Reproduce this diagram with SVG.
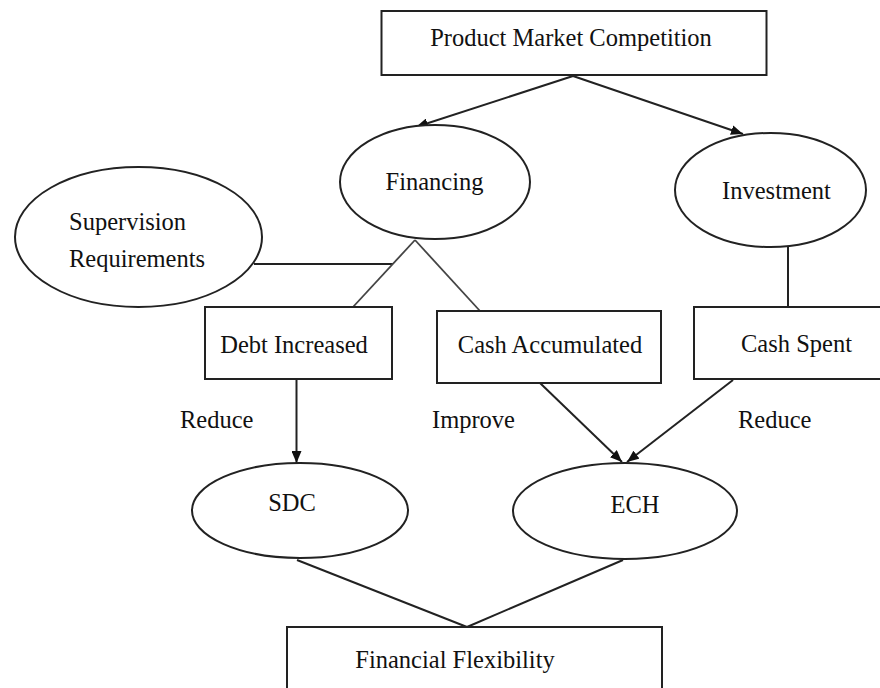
<svg xmlns="http://www.w3.org/2000/svg" width="880" height="688" viewBox="0 0 880 688">
<style>
.n{fill:#fff;stroke:#222;stroke-width:2}
.t{font-family:"Liberation Serif","Times New Roman",serif;font-size:24.5px;fill:#111}
.c{text-anchor:middle}
.e{fill:none;stroke:#222;stroke-width:2}
.g{fill:none;stroke:#444;stroke-width:1.8}
</style>
<defs>
<marker id="ah" viewBox="0 0 12 10" refX="12" refY="5" markerWidth="12" markerHeight="10" markerUnits="userSpaceOnUse" orient="auto">
<path d="M0,0 L12,5 L0,10 Z" fill="#111"/>
</marker>
</defs>
<rect width="880" height="688" fill="#fff"/>
<g id="connectors">
<line class="e" x1="573" y1="76" x2="416" y2="127" marker-end="url(#ah)"/>
<line class="e" x1="573" y1="76" x2="743" y2="134" marker-end="url(#ah)"/>
<line class="e" x1="254" y1="264" x2="393" y2="264"/>
<line class="g" x1="415" y1="240" x2="353" y2="307"/>
<line class="g" x1="415" y1="240" x2="480" y2="311"/>
<line class="e" x1="788" y1="247" x2="788" y2="307"/>
<line class="e" x1="296.5" y1="379" x2="296.5" y2="463" marker-end="url(#ah)"/>
<line class="e" x1="540" y1="383" x2="622" y2="462" marker-end="url(#ah)"/>
<line class="e" x1="733" y1="380" x2="627" y2="462" marker-end="url(#ah)"/>
<line class="e" x1="297" y1="560" x2="467" y2="627"/>
<line class="e" x1="623" y1="560" x2="467" y2="627"/>
</g>
<g id="pmc">
<rect class="n" x="381.5" y="11" width="385" height="64"/>
<text class="t c" x="571" y="46">Product Market Competition</text>
</g>
<g id="financing">
<ellipse class="n" cx="435" cy="182" rx="95" ry="57"/>
<text class="t c" x="434.5" y="190">Financing</text>
</g>
<g id="supervision">
<ellipse class="n" cx="138.5" cy="237" rx="123.5" ry="70"/>
<text class="t" x="69" y="230">Supervision</text>
<text class="t" x="69" y="267">Requirements</text>
</g>
<g id="investment">
<ellipse class="n" cx="770.5" cy="190" rx="95.5" ry="57"/>
<text class="t c" x="776.5" y="199">Investment</text>
</g>
<g id="debt">
<rect class="n" x="205" y="307" width="187" height="72"/>
<text class="t c" x="294" y="353">Debt Increased</text>
</g>
<g id="cashacc">
<rect class="n" x="437" y="311" width="224" height="72"/>
<text class="t c" x="550" y="353">Cash Accumulated</text>
</g>
<g id="cashspent">
<rect class="n" x="694" y="307" width="200" height="72"/>
<text class="t c" x="796.5" y="352">Cash Spent</text>
</g>
<g id="labels">
<text class="t" x="180" y="428">Reduce</text>
<text class="t" x="432" y="428">Improve</text>
<text class="t" x="738" y="428">Reduce</text>
</g>
<g id="sdc">
<ellipse class="n" cx="300" cy="510.5" rx="108" ry="47.5"/>
<text class="t c" x="292" y="511">SDC</text>
</g>
<g id="ech">
<ellipse class="n" cx="625" cy="511" rx="112" ry="48"/>
<text class="t c" x="635" y="513">ECH</text>
</g>
<g id="ff">
<rect class="n" x="287" y="627" width="375" height="80"/>
<text class="t c" x="455" y="668">Financial Flexibility</text>
</g>
</svg>
